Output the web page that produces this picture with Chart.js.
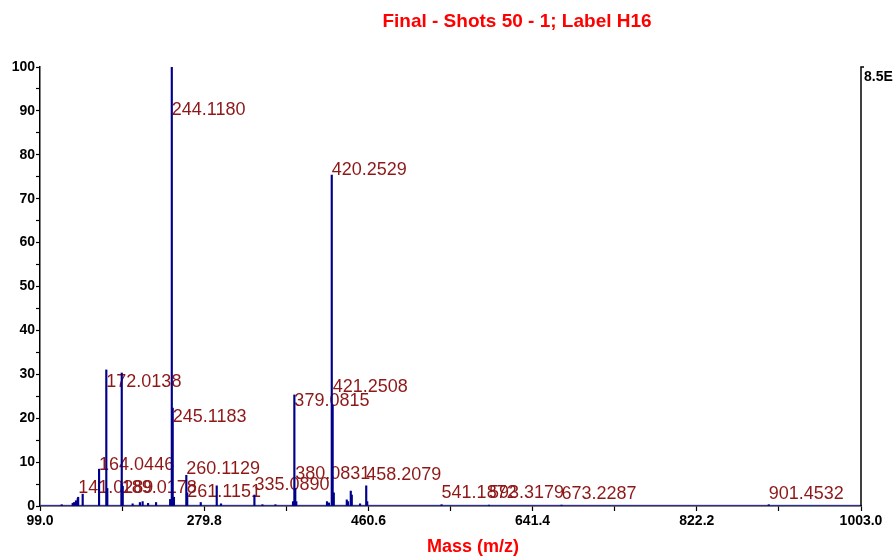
<!DOCTYPE html>
<html>
<head>
<meta charset="utf-8">
<script src="https://cdn.jsdelivr.net/npm/chart.js@4.4.1/dist/chart.umd.min.js"></script>
<style>
  html, body { margin: 0; padding: 0; background: #fff; }
  #wrap { width: 894px; height: 559px; position: relative; }
</style>
</head>
<body>
<div id="wrap"><canvas id="spec"></canvas></div>
<script>
// spectrum sticks (m/z, relative intensity %)
var peakMz = [122.9, 135.0, 136.4, 138.6, 140.5, 141.0289, 146.0, 164.0446, 172.0138, 173.1,
  188.8, 189.0178, 190.1, 201.0, 209.0, 212.0, 218.0, 226.8, 242.3, 244.1180, 245.1183, 246.5,
  260.1129, 261.1151, 276.0, 293.6, 298.3, 335.0890, 343.9, 358.2, 377.6, 379.0815, 380.0831,
  381.2, 415.0, 417.1, 420.2529, 421.2508, 422.5, 436.8, 438.2, 441.2, 442.3, 451.4, 458.2079,
  459.3, 541.1872, 593.3179, 673.2287, 901.4532];
var peakInt = [0.3, 0.6, 0.8, 1.2, 1.7, 2.0, 2.7, 8.4, 31.0, 4.0,
  5.0, 30.3, 4.5, 0.5, 0.8, 1.0, 0.6, 0.8, 1.5, 100, 22.3, 2.0,
  7.0, 3.0, 0.8, 4.6, 0.5, 2.5, 0.3, 0.3, 1.0, 25.3, 4.0,
  1.0, 1.0, 0.7, 75.4, 23.0, 3.0, 1.4, 1.0, 3.4, 2.5, 0.5, 4.6,
  1.0, 0.3, 0.2, 0.2, 0.3];

// noise floor drawn along the baseline
var noiseMz = [99.0, 1003.0];
var noiseInt = [0.15, 0.15];

// peak annotations: text and the height (%) at which the text sits
var labelText = ['141.0289', '164.0446', '172.0138', '189.0178', '244.1180', '245.1183',
  '260.1129', '261.1151', '335.0890', '379.0815', '380.0831', '420.2529', '421.2508',
  '458.2079', '541.1872', '593.3179', '673.2287', '901.4532'];
var labelLevel = [4.1, 9.3, 28.2, 4.1, 90.1, 20.3,
  8.4, 3.1, 4.8, 23.9, 7.3, 76.5, 27.0,
  7.0, 2.9, 2.9, 2.7, 2.7];

var xTicksMin = 99.0, xTicksMax = 1003.0, xStep = 90.4;
var yMin = 0, yMax = 100, yStep = 5;

var FONT = "'Liberation Sans', Arial, sans-serif";

var sticks = peakMz.map(function(m, i) { return { x: m, y: peakInt[i] } });
var noise = noiseMz.map(function(m, i) { return { x: m, y: noiseInt[i] } });

// labels go under the sticks, like the original
var peakLabels = {
  id: 'peakLabels',
  beforeDatasetsDraw: function(chart) {
    var ctx = chart.ctx, xs = chart.scales.x, ys = chart.scales.y;
    ctx.save();
    ctx.font = '18px ' + FONT;
    ctx.fillStyle = '#8e1818';
    ctx.textAlign = 'left';
    ctx.textBaseline = 'middle';
    labelText.forEach(function(t, i) {
      ctx.fillText(t, xs.getPixelForValue(parseFloat(t)), ys.getPixelForValue(labelLevel[i]));
    });
    ctx.restore();
  }
};

var frameText = {
  id: 'frameText',
  afterDraw: function(chart) {
    var ctx = chart.ctx, a = chart.chartArea;
    ctx.save();
    // right axis
    ctx.strokeStyle = '#000';
    ctx.lineWidth = 1.5;
    ctx.beginPath();
    ctx.moveTo(a.right + 3, a.top);
    ctx.lineTo(a.right, a.top);
    ctx.lineTo(a.right, a.bottom);
    ctx.stroke();
    ctx.fillStyle = '#000';
    ctx.font = 'bold 14px ' + FONT;
    ctx.textAlign = 'left';
    ctx.textBaseline = 'middle';
    ctx.fillText('8.5E', a.right + 3, a.top + 10);
    // title and x axis title
    ctx.fillStyle = '#ff0000';
    ctx.font = 'bold 19px ' + FONT;
    ctx.textAlign = 'center';
    ctx.fillText('Final - Shots 50 - 1; Label H16', 517, 22);
    ctx.font = 'bold 18px ' + FONT;
    ctx.fillText('Mass (m/z)', 473, 547);
    ctx.restore();
  }
};

new Chart(document.getElementById('spec'), {
  type: 'bar',
  data: {
    datasets: [{
      data: sticks,
      backgroundColor: '#00008b',
      borderWidth: 0,
      barThickness: 1.5
    }, {
      type: 'line',
      data: noise,
      borderColor: '#3a3aa8',
      borderWidth: 1,
      pointRadius: 0
    }]
  },
  options: {
    responsive: true,
    maintainAspectRatio: false,
    animation: false,
    devicePixelRatio: 1,
    layout: { padding: { top: 67, right: 33, left: 0, bottom: 0 } },
    plugins: { legend: { display: false }, tooltip: { enabled: false }, title: { display: false } },
    scales: {
      x: {
        type: 'linear',
        offset: false,
        min: xTicksMin,
        max: xTicksMax,
        afterFit: function(s) { s.height = 53 },
        grid: { drawOnChartArea: false, drawTicks: true, tickLength: 5, color: '#000', offset: false, tickWidth: 1.2 },
        border: { display: true, color: '#000', width: 1.5 },
        ticks: {
          stepSize: xStep,
          autoSkip: false,
          maxRotation: 0,
          padding: 2,
          color: '#000',
          font: { family: FONT, size: 14, weight: 'bold' },
          callback: function(v, i) { return i % 2 === 0 ? v.toFixed(1) : '' }
        }
      },
      y: {
        min: yMin,
        max: yMax,
        afterFit: function(s) { s.width = 40 },
        grid: { drawOnChartArea: false, drawTicks: true, tickLength: 4, color: '#000', tickWidth: 1.2 },
        border: { display: true, color: '#000', width: 1.5 },
        ticks: {
          stepSize: yStep,
          autoSkip: false,
          padding: 1,
          color: '#000',
          font: { family: FONT, size: 14, weight: 'bold' },
          callback: function(v) { return v % 10 === 0 ? v : '' }
        }
      }
    }
  },
  plugins: [peakLabels, frameText]
});
</script>
</body>
</html>
